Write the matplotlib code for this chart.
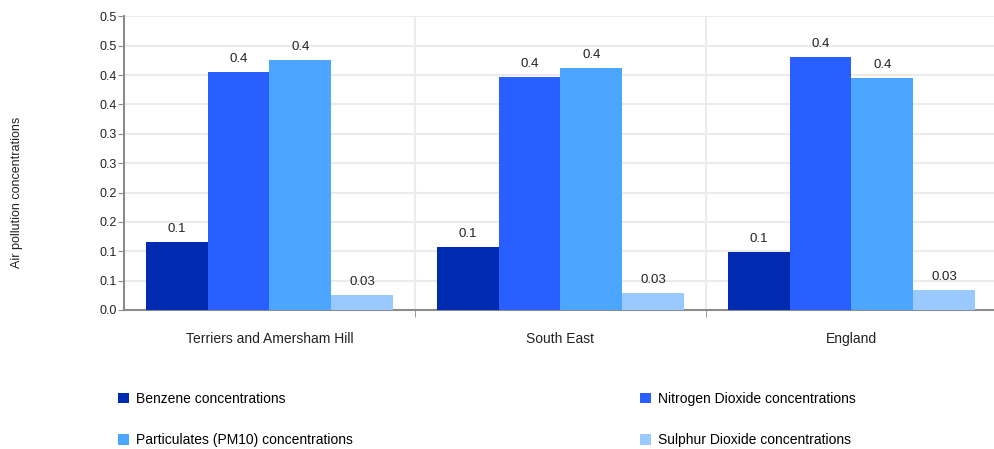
import matplotlib
matplotlib.use("Agg")
import matplotlib.pyplot as plt
import numpy as np

plt.rcParams['font.family'] = ['Liberation Sans', 'DejaVu Sans']

categories = ["Terriers and Amersham Hill", "South East", "England"]
series_names = ["Benzene concentrations", "Nitrogen Dioxide concentrations",
                "Particulates (PM10) concentrations", "Sulphur Dioxide concentrations"]
benzene = [0.116, 0.107, 0.098]
no2 = [0.405, 0.397, 0.431]
pm10 = [0.426, 0.412, 0.395]
so2 = [0.026, 0.029, 0.034]
label_fmts = ["%.1f", "%.1f", "%.1f", "%.2f"]
colors = ["#002bb0", "#2a5fff", "#4ca5ff", "#99c9ff"]
yticks = [0.0, 0.05, 0.10, 0.15, 0.20, 0.25, 0.30, 0.35, 0.40, 0.45, 0.50]
ytick_labels = ["0.0", "0.1", "0.1", "0.2", "0.2", "0.3", "0.3", "0.4", "0.4", "0.5", "0.5"]

W, H = 995, 449
fig = plt.figure(figsize=(W / 100, H / 100), dpi=100)
ax = fig.add_axes([124 / W, 1 - 310 / H, (997 - 124) / W, (310 - 16.3) / H])

grey = "#8c8c8c"
grid = "#ebebeb"
txt = "#222222"
n = len(series_names)
bw = 0.213
x = np.arange(len(categories)) + 0.5
all_series = [benzene, no2, pm10, so2]
handles = []
for i, (vals, c, fmt) in enumerate(zip(all_series, colors, label_fmts)):
    pos = x + (i - (n - 1) / 2) * bw
    b = ax.bar(pos, vals, width=bw, color=c, zorder=3, label=series_names[i])
    ax.bar_label(b, fmt=fmt, padding=5, fontsize=9.5, color=txt)
    handles.append(b)

ax.set_xlim(0, 3)
ax.set_ylim(0, 0.5)
ax.set_yticks(yticks)
ax.set_yticklabels(ytick_labels, fontsize=9, color=txt)
ax.set_xticks(x)
ax.set_xticklabels(categories, fontsize=10, color=txt)
ax.tick_params(axis='x', length=0, pad=16)
ax.tick_params(axis='y', length=4, color=grey, pad=1)
ax.set_xticks([1, 2], minor=True)
ax.tick_params(axis='x', which='minor', length=5, color=grey, direction='out')

for yv in yticks[1:]:
    ax.axhline(yv, color=grid, lw=1.5, zorder=0)
for xv in [1, 2]:
    ax.axvline(xv, color=grid, lw=1.5, zorder=0)

for s in ["top", "right"]:
    ax.spines[s].set_visible(False)
ax.spines["left"].set_color(grey)
ax.spines["left"].set_linewidth(1.5)
ax.spines["bottom"].set_color(grey)
ax.spines["bottom"].set_linewidth(1.5)

fig.text(17 / W, 1 - 192 / H, "Air pollution concentrations", rotation=90,
         ha="center", va="center", fontsize=9, color=txt)

# legend: two columns, placed manually
leg_kw = dict(loc="upper left", frameon=False, fontsize=10, handlelength=0.8,
              handleheight=0.8, handletextpad=0.5, labelspacing=1.95, borderpad=0,
              borderaxespad=0)
fig.legend([handles[0], handles[2]], [series_names[0], series_names[2]],
           bbox_to_anchor=(118 / W, 1 - 392 / H), **leg_kw)
fig.legend([handles[1], handles[3]], [series_names[1], series_names[3]],
           bbox_to_anchor=(640 / W, 1 - 392 / H), **leg_kw)

fig.savefig("out.png", dpi=100)
